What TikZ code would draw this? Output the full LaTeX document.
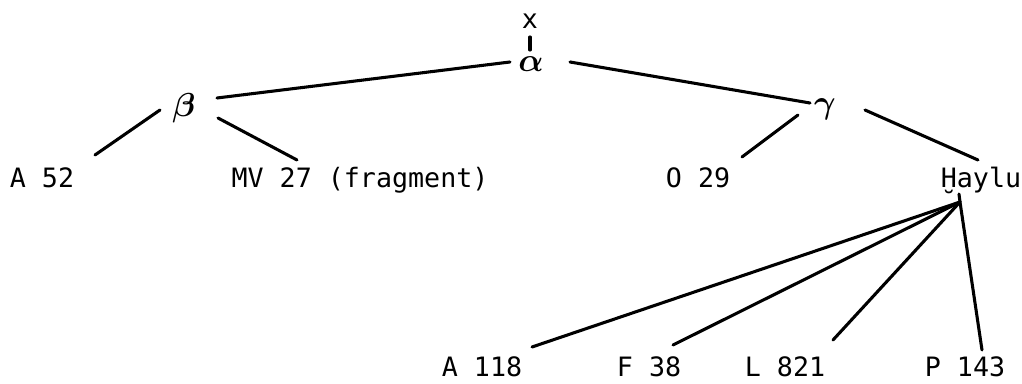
\documentclass[tikz,border=0pt]{standalone}
\usepackage{amsmath}
\usepackage{fontspec}
\newfontfamily\typew{DejaVu Sans Mono}
\usetikzlibrary{calc}
\begin{document}
\begin{tikzpicture}[x=0.75pt,y=-0.75pt,
  lbl/.style={font=\typew\fontsize{20}{24}\selectfont, inner sep=0pt, anchor=base},
  grk/.style={font=\fontsize{29}{34}\selectfont, inner sep=0pt},
  edge/.style={line width=2.3pt, line cap=round}]
\useasboundingbox (0,0) rectangle (1022,384);
% nodes
\node[lbl] (x) at (530,29) {x};
\node[grk] (alpha) at (531,64) {$\boldsymbol{\alpha}$};
\node[grk] (beta) at (184,108) {$\boldsymbol{\beta}$};
\node[grk] (gamma) at (825,109) {$\boldsymbol{\gamma}$};
\node[lbl] (A52) at (42,188) {A 52};
\node[lbl] (MV) at (360,188) {MV 27 (fragment)};
\node[lbl] (O29) at (698,188) {O 29};
\node[lbl] (Haylu) at (981,188) {Ḫaylu};
\node[lbl] (A118) at (482,377) {A 118};
\node[lbl] (F38) at (649,377) {F 38};
\node[lbl] (L821) at (785,377) {L 821};
\node[lbl] (P143) at (965,377) {P 143};
\coordinate (hub) at ($(Haylu.base)+(-21,14)$);
% connectors
\draw[edge] ($(x.base)+(0,8)$) -- ($(alpha)+(-1,-14)$);
\draw[edge] ($(alpha)+(-21,-2)$) -- ($(beta)+(33,-10)$);
\draw[edge] ($(alpha)+(39,-2)$) -- ($(gamma)+(-15,-6)$);
\draw[edge] ($(beta)+(-24,2)$) -- ($(A52.base)+(53,-33)$);
\draw[edge] ($(beta)+(34,10)$) -- ($(MV.base)+(-63,-28)$);
\draw[edge] ($(gamma)+(-27,6)$) -- ($(O29.base)+(44,-31)$);
\draw[edge] ($(gamma)+(40,1)$) -- ($(Haylu.base)+(-3,-28)$);
\draw[edge] ($(Haylu.base)+(-22,6)$) -- (hub);
\draw[edge] (hub) -- ($(A118.base)+(50,-30)$);
\draw[edge] (hub) -- ($(F38.base)+(24,-32)$);
\draw[edge] (hub) -- ($(L821.base)+(48,-37)$);
\draw[edge] (hub) -- ($(P143.base)+(17,-27)$);
\end{tikzpicture}
\end{document}
